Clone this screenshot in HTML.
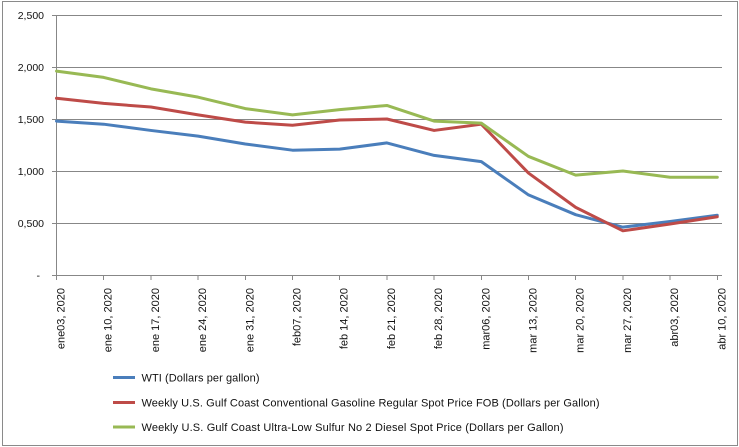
<!DOCTYPE html>
<html><head><meta charset="utf-8"><style>
html,body{margin:0;padding:0;background:#fff;}
svg{display:block;}
text{font-family:"Liberation Sans",sans-serif;fill:#111;}
</style></head><body>
<svg width="739" height="447" viewBox="0 0 739 447" xmlns="http://www.w3.org/2000/svg">
<rect x="2.5" y="1.5" width="735" height="444" fill="#fff" stroke="#8a8a8a" stroke-width="1"/>
<g stroke="#878787" stroke-width="1" shape-rendering="crispEdges">
<line x1="52" y1="15.5" x2="722" y2="15.5"/>
<line x1="52" y1="67.5" x2="722" y2="67.5"/>
<line x1="52" y1="119.5" x2="722" y2="119.5"/>
<line x1="52" y1="171.5" x2="722" y2="171.5"/>
<line x1="52" y1="223.5" x2="722" y2="223.5"/>
<line x1="52" y1="275.5" x2="722" y2="275.5"/>
<line x1="56.5" y1="15" x2="56.5" y2="276"/>
<line x1="56.5" y1="275" x2="56.5" y2="280"/>
<line x1="103.7" y1="275" x2="103.7" y2="280"/>
<line x1="150.9" y1="275" x2="150.9" y2="280"/>
<line x1="198.1" y1="275" x2="198.1" y2="280"/>
<line x1="245.3" y1="275" x2="245.3" y2="280"/>
<line x1="292.5" y1="275" x2="292.5" y2="280"/>
<line x1="339.7" y1="275" x2="339.7" y2="280"/>
<line x1="386.9" y1="275" x2="386.9" y2="280"/>
<line x1="434.1" y1="275" x2="434.1" y2="280"/>
<line x1="481.3" y1="275" x2="481.3" y2="280"/>
<line x1="528.5" y1="275" x2="528.5" y2="280"/>
<line x1="575.7" y1="275" x2="575.7" y2="280"/>
<line x1="622.9" y1="275" x2="622.9" y2="280"/>
<line x1="670.1" y1="275" x2="670.1" y2="280"/>
<line x1="717.3" y1="275" x2="717.3" y2="280"/>
</g>
<g font-size="10.5" text-anchor="end">
<text x="44" y="19">2,500</text>
<text x="44" y="71">2,000</text>
<text x="44" y="123">1,500</text>
<text x="44" y="175">1,000</text>
<text x="44" y="227">0,500</text>
<text x="40" y="279">-</text>
</g>
<g font-size="11" text-anchor="end">
<text transform="translate(64.5,288) rotate(-90)">ene03, 2020</text>
<text transform="translate(111.7,288) rotate(-90)">ene 10, 2020</text>
<text transform="translate(158.9,288) rotate(-90)">ene 17, 2020</text>
<text transform="translate(206.1,288) rotate(-90)">ene 24, 2020</text>
<text transform="translate(253.3,288) rotate(-90)">ene 31, 2020</text>
<text transform="translate(300.5,288) rotate(-90)">feb07, 2020</text>
<text transform="translate(347.7,288) rotate(-90)">feb 14, 2020</text>
<text transform="translate(394.9,288) rotate(-90)">feb 21, 2020</text>
<text transform="translate(442.1,288) rotate(-90)">feb 28, 2020</text>
<text transform="translate(489.3,288) rotate(-90)">mar06, 2020</text>
<text transform="translate(536.5,288) rotate(-90)">mar 13, 2020</text>
<text transform="translate(583.7,288) rotate(-90)">mar 20, 2020</text>
<text transform="translate(630.9,288) rotate(-90)">mar 27, 2020</text>
<text transform="translate(678.1,288) rotate(-90)">abr03, 2020</text>
<text transform="translate(725.3,288) rotate(-90)">abr 10, 2020</text>
</g>
<g fill="none" stroke-width="3" stroke-linejoin="round" stroke-linecap="round">
<polyline stroke="#4a7ebb" points="56.5,121.08 103.7,124.2 150.9,130.44 198.1,136.16 245.3,143.96 292.5,150.2 339.7,149.16 386.9,142.92 434.1,155.4 481.3,161.64 528.5,194.92 575.7,214.68 622.9,227.16 670.1,221.44 717.3,215.2"/>
<polyline stroke="#be4b48" points="56.5,98.2 103.7,103.4 150.9,107.04 198.1,114.84 245.3,122.12 292.5,125.24 339.7,120.04 386.9,119 434.1,130.44 481.3,124.2 528.5,173.08 575.7,207.4 622.9,230.8 670.1,224.04 717.3,216.76"/>
<polyline stroke="#98b954" points="56.5,71.16 103.7,77.4 150.9,88.84 198.1,97.16 245.3,108.6 292.5,114.84 339.7,109.64 386.9,105.48 434.1,121.08 481.3,123.16 528.5,156.44 575.7,175.16 622.9,171 670.1,177.24 717.3,177.24"/>
</g>
<g stroke-width="3">
<line x1="113" y1="377.5" x2="135" y2="377.5" stroke="#4a7ebb"/>
<line x1="113" y1="402.5" x2="135" y2="402.5" stroke="#be4b48"/>
<line x1="113" y1="427" x2="135" y2="427" stroke="#98b954"/>
</g>
<g font-size="11">
<text x="141.5" y="381.5" textLength="118" lengthAdjust="spacing">WTI (Dollars per gallon)</text>
<text x="141.5" y="406.5" textLength="458" lengthAdjust="spacing">Weekly U.S. Gulf Coast Conventional Gasoline Regular Spot Price FOB  (Dollars per Gallon)</text>
<text x="141.5" y="431" textLength="422" lengthAdjust="spacing">Weekly U.S. Gulf Coast Ultra-Low Sulfur No 2 Diesel Spot Price  (Dollars per Gallon)</text>
</g>
</svg>
</body></html>
